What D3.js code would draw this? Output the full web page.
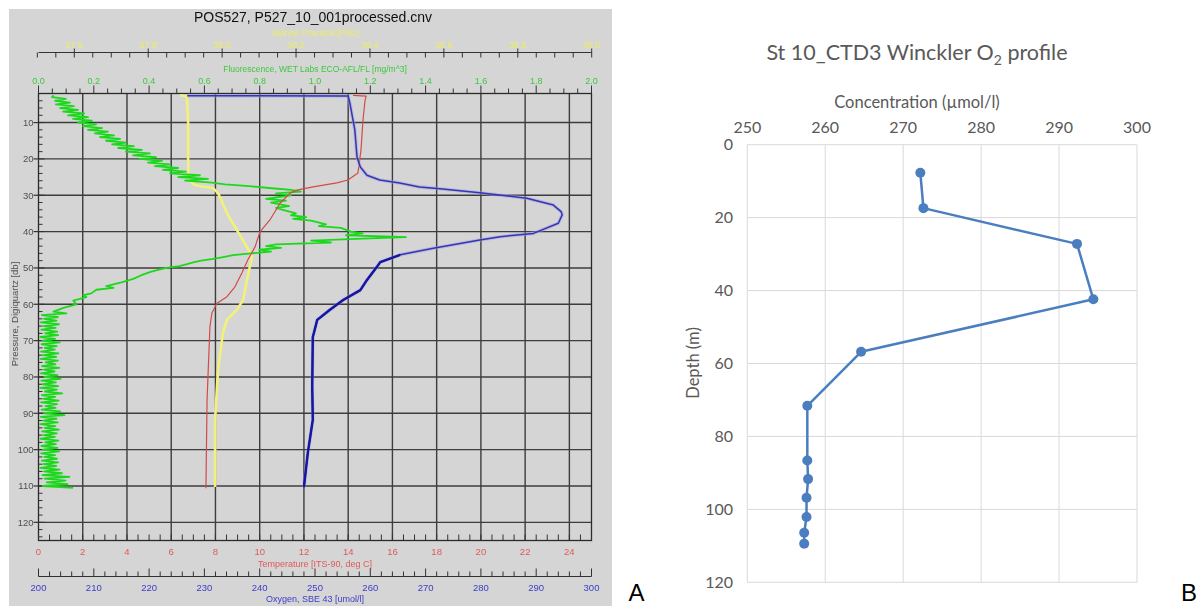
<!DOCTYPE html>
<html>
<head>
<meta charset="utf-8">
<script src="https://cdn.jsdelivr.net/npm/d3@7"></script>
<style>
  html, body { margin: 0; padding: 0; background: #ffffff; }
  svg { display: block; }
</style>
</head>
<body>
<svg id="fig" width="1203" height="606"></svg>
<script>
// ---------- Panel A: CTD cast POS527 station 10 ----------
const pressureTicks = [10, 20, 30, 40, 50, 60, 70, 80, 90, 100, 110, 120];
const temperatureTicks = [0, 2, 4, 6, 8, 10, 12, 14, 16, 18, 20, 22, 24];
const oxygenTicks = [200, 210, 220, 230, 240, 250, 260, 270, 280, 290, 300];
const fluorescenceTicks = [0, 0.2, 0.4, 0.6, 0.8, 1.0, 1.2, 1.4, 1.6, 1.8, 2.0];
const salinityTicks = [37.6, 37.8, 38.0, 38.2, 38.4, 38.6, 38.8, 39.0];

// [pressure db, temperature deg C]
const temperatureProfile = [
  [2.5, 14.22], [2.7, 14.81], [4, 14.76], [9.3, 14.67], [17.5, 14.58], [23.9, 14.44],
  [25.8, 13.99], [26.6, 13.49], [27.7, 12.41], [28.6, 11.68], [29.4, 11.37], [32.2, 10.92],
  [36.8, 10.46], [40.1, 10.01], [44.2, 9.79], [47.7, 9.47], [51.3, 9.2], [55.2, 8.88],
  [57.9, 8.52], [59.7, 8.07], [62.4, 7.84], [66.2, 7.75], [86.3, 7.62], [110.6, 7.57]
];

// [pressure db, oxygen umol/l]
const oxygenProfile = [
  [2.6, 226.9], [2.7, 256.0], [4.6, 256.3], [12, 257.2], [19.5, 257.6], [22.2, 258.2],
  [24.5, 259.4], [25.8, 261.7], [26.6, 265.3], [27.7, 268.9], [28.2, 272.6], [29.3, 279.8],
  [30.8, 288.3], [32.7, 293.1], [34.5, 294.5], [35.4, 294.7], [37.7, 294.0], [40.5, 289.5],
  [41.4, 283.5], [42.3, 279.8], [44.6, 271.4], [46.4, 265.4], [48.4, 261.8], [49.7, 261.2],
  [53.3, 259.4], [56.1, 258.2], [58.8, 255.1], [61.5, 252.7], [64.3, 250.4], [67.9, 249.8],
  [69, 249.6], [82.8, 249.5], [91.8, 249.6], [100.9, 248.7], [110.3, 248.0]
];

// [pressure db, salinity PSU]
const salinityProfile = [
  [2.5, 37.886], [2.8, 37.905], [10, 37.908], [20, 37.908], [24, 37.909], [25.8, 37.913],
  [27.2, 37.925], [27.6, 37.945], [28, 37.975], [29.4, 37.989], [34.9, 38.013], [39.6, 38.040],
  [44.2, 38.067], [47, 38.081], [49.7, 38.075], [53.3, 38.067], [58.8, 38.057], [61.5, 38.040],
  [64.3, 38.013], [67.9, 38.002], [78.1, 37.989], [82.8, 37.986], [91.8, 37.981], [110.3, 37.981]
];

// [pressure db, fluorescence mg/m^3]
const fluorescenceProfile = [
  [2.5, 0.054], [3.0, 0.049], [3.5, 0.099], [4.0, 0.060], [4.5, 0.114], [5.0, 0.063], [5.5, 0.128],
  [6.0, 0.078], [6.5, 0.143], [7.0, 0.089], [7.5, 0.165], [8.0, 0.107], [8.5, 0.179], [9.0, 0.125],
  [9.5, 0.193], [10.0, 0.143], [10.5, 0.208], [11.0, 0.161], [11.5, 0.230], [12.0, 0.179],
  [12.5, 0.251], [13.0, 0.204], [13.5, 0.273], [14.0, 0.222], [14.5, 0.295], [15.0, 0.244],
  [15.5, 0.316], [16.0, 0.266], [16.5, 0.345], [17.0, 0.288], [17.5, 0.374], [18.0, 0.316],
  [18.5, 0.403], [19.0, 0.342], [19.5, 0.425], [20.0, 0.367], [20.5, 0.447], [21.0, 0.396],
  [21.5, 0.476], [22.0, 0.421], [22.5, 0.505], [23.0, 0.450], [23.5, 0.533], [24.0, 0.476],
  [24.5, 0.584], [25.0, 0.505], [25.5, 0.613], [26.0, 0.530], [26.5, 0.627], [27.0, 0.675],
  [27.5, 0.762], [28, 0.834], [28.5, 0.913], [29, 0.949], [29.5, 0.859], [30, 0.913], [31, 0.823],
  [31.5, 0.895], [32, 0.841], [33, 0.906], [33.5, 0.859], [34, 0.884], [35, 0.931], [35.5, 0.913],
  [36, 0.968], [36.5, 0.921], [37, 0.986], [38, 1.040], [38.5, 1.014], [39, 1.094], [40, 1.130],
  [40.5, 1.173], [41, 1.112], [41.5, 1.329], [42, 1.148], [42.5, 0.986], [43, 1.058], [43.5, 0.859],
  [44, 0.823], [44.5, 0.877], [45, 0.798], [45.5, 0.841], [46, 0.769], [46.5, 0.704], [47, 0.668],
  [47.5, 0.632], [48, 0.588], [48.5, 0.560], [49, 0.534], [49.5, 0.509], [50, 0.462], [51, 0.408],
  [52, 0.372], [53, 0.343], [54, 0.300], [55, 0.245], [55.5, 0.271], [56, 0.209], [57, 0.191],
  [57.5, 0.162], [58, 0.173], [59, 0.126], [60, 0.137], [61, 0.090], [62, 0.054], [62.5, 0.101],
  [63, 0.012], [63.5, 0.070], [64, 0.020], [64.5, 0.065], [65, 0.008], [65.5, 0.074], [66, 0.018],
  [66.5, 0.062], [67, 0.010], [67.5, 0.068], [68, 0.024], [68.5, 0.071], [69, 0.006], [69.5, 0.060],
  [70, 0.015], [70.5, 0.077], [71, 0.011], [71.5, 0.066], [72, 0.022], [72.5, 0.059], [73, 0.009],
  [73.5, 0.072], [74, 0.017], [74.5, 0.064], [75, 0.007], [75.5, 0.070], [76, 0.026], [76.5, 0.061],
  [77, 0.012], [77.5, 0.075], [78, 0.019], [78.5, 0.058], [79, 0.008], [79.5, 0.069], [80, 0.021],
  [80.5, 0.080], [81, 0.010], [81.5, 0.063], [82, 0.016], [82.5, 0.071], [83, 0.006], [83.5, 0.066],
  [84, 0.023], [84.5, 0.086], [85, 0.012], [85.5, 0.060], [86, 0.018], [86.5, 0.073], [87, 0.009],
  [87.5, 0.067], [88, 0.025], [88.5, 0.062], [89, 0.011], [89.5, 0.078], [90, 0.020], [90.5, 0.094],
  [91, 0.008], [91.5, 0.065], [92, 0.017], [92.5, 0.070], [93, 0.006], [93.5, 0.061], [94, 0.022],
  [94.5, 0.074], [95, 0.013], [95.5, 0.066], [96, 0.019], [96.5, 0.059], [97, 0.007], [97.5, 0.072],
  [98, 0.024], [98.5, 0.063], [99, 0.010], [99.5, 0.069], [100, 0.016], [100.5, 0.075], [101, 0.009],
  [101.5, 0.060], [102, 0.021], [102.5, 0.067], [103, 0.012], [103.5, 0.071], [104, 0.018],
  [104.5, 0.064], [105, 0.006], [105.5, 0.076], [106, 0.020], [106.5, 0.085], [107, 0.014],
  [107.5, 0.112], [108, 0.022], [108.5, 0.098], [109, 0.030], [109.5, 0.105], [110, 0.015],
  [110.5, 0.125]
];

// ---------- Panel B: Winkler bottle samples ----------
const winklerTicksX = [250, 260, 270, 280, 290, 300];
const winklerTicksY = [0, 20, 40, 60, 80, 100, 120];
const winklerDepth = [7.7, 17.4, 27.2, 42.4, 56.8, 71.6, 86.6, 91.7, 96.8, 102.1, 106.4, 109.4];
const winklerO2 = [272.2, 272.6, 292.3, 294.4, 264.6, 257.7, 257.7, 257.8, 257.6, 257.6, 257.3, 257.3];

const svg = d3.select("#fig");
const defs = svg.append("defs");
defs.append("filter").attr("id", "soft")
  .attr("x", "-2%").attr("y", "-2%").attr("width", "104%").attr("height", "104%")
  .append("feGaussianBlur").attr("stdDeviation", 0.55);

// ===== Panel A =====
const A = svg.append("g").attr("filter", "url(#soft)");
const fontA = "'Liberation Sans', Arial, sans-serif";
A.append("rect").attr("x", 9).attr("y", 9).attr("width", 603).attr("height", 597).attr("fill", "#d5d5d5");

const L = 38.5, R = 591.5, T = 93.5, B = 540.5;
const yA = d3.scaleLinear().domain([2, 125]).range([T, B]);
const xT = d3.scaleLinear().domain([0, 25]).range([L, R]);
const xO = d3.scaleLinear().domain([200, 300]).range([L, R]);
const xF = d3.scaleLinear().domain([0, 2]).range([L, R]);
const xS = d3.scaleLinear().domain([37.6, 39.0]).range([74.3, 591.7]);

const gridC = "#3c3c3c";
// grid
A.append("g").selectAll("line").data(pressureTicks).join("line")
  .attr("x1", L).attr("x2", R).attr("y1", d => yA(d)).attr("y2", d => yA(d))
  .attr("stroke", gridC).attr("stroke-width", 1.4);
A.append("g").selectAll("line").data(temperatureTicks.filter(d => d > 0)).join("line")
  .attr("x1", d => xT(d)).attr("x2", d => xT(d)).attr("y1", T).attr("y2", B)
  .attr("stroke", gridC).attr("stroke-width", 1.4);
// frame
A.append("rect").attr("x", L).attr("y", T).attr("width", R - L).attr("height", B - T)
  .attr("fill", "none").attr("stroke", "#2a2a2a").attr("stroke-width", 1.3);

// left pressure axis ticks
const pMinor = d3.range(4, 125, 2);
A.append("g").selectAll("line").data(pMinor).join("line")
  .attr("x1", L).attr("x2", d => d % 10 === 0 ? L + 6 : L + 4)
  .attr("y1", d => yA(d)).attr("y2", d => yA(d)).attr("stroke", "#333").attr("stroke-width", 1);
A.append("g").selectAll("line").data(pressureTicks).join("line")
  .attr("x1", L - 5).attr("x2", L).attr("y1", d => yA(d)).attr("y2", d => yA(d))
  .attr("stroke", "#333").attr("stroke-width", 1.2);
A.append("g").selectAll("text").data(pressureTicks).join("text")
  .attr("x", L - 5).attr("y", d => yA(d) + 3.3).attr("text-anchor", "end")
  .attr("font-family", fontA).attr("font-size", 9.5).attr("fill", "#505050").text(d => d);
A.append("text").attr("transform", "translate(18,314) rotate(-90)").attr("text-anchor", "middle")
  .attr("font-family", fontA).attr("font-size", 9.5).attr("fill", "#505050")
  .text("Pressure, Digiquartz [db]");

// top fluorescence axis (on plot top edge)
const fMinor = d3.range(0, 2.0001, 0.05);
A.append("g").selectAll("line").data(fMinor).join("line")
  .attr("x1", d => xF(d)).attr("x2", d => xF(d))
  .attr("y1", T).attr("y2", (d, i) => i % 4 === 0 ? T - 8 : T - 5)
  .attr("stroke", "#333").attr("stroke-width", 1);
A.append("g").selectAll("text").data(fluorescenceTicks).join("text")
  .attr("x", d => xF(d)).attr("y", 83.5).attr("text-anchor", "middle")
  .attr("font-family", fontA).attr("font-size", 9).attr("fill", "#3cc83c").text(d => d.toFixed(1));
A.append("text").attr("x", 315).attr("y", 72).attr("text-anchor", "middle")
  .attr("font-family", fontA).attr("font-size", 8.5).attr("fill", "#3cc83c")
  .text("Fluorescence, WET Labs ECO-AFL/FL [mg/m^3]");

// salinity axis
const sY = 52.5;
A.append("line").attr("x1", L).attr("x2", R).attr("y1", sY).attr("y2", sY).attr("stroke", "#333").attr("stroke-width", 1.2);
const sMinor = d3.range(37.5, 39.0001, 0.05);
A.append("g").selectAll("line").data(sMinor).join("line")
  .attr("x1", d => xS(d)).attr("x2", d => xS(d))
  .attr("y1", (d, i) => (i - 2) % 4 === 0 ? sY - 4 : sY).attr("y2", sY + 5)
  .attr("stroke", "#333").attr("stroke-width", 1);
A.append("g").selectAll("text").data(salinityTicks).join("text")
  .attr("x", d => xS(d)).attr("y", 47.5).attr("text-anchor", "middle")
  .attr("font-family", fontA).attr("font-size", 9).attr("fill", "#ecec6a").text(d => d.toFixed(1));
A.append("text").attr("x", 315).attr("y", 36).attr("text-anchor", "middle")
  .attr("font-family", fontA).attr("font-size", 8.5).attr("fill", "#ecec6a")
  .text("Salinity, Practical [PSU]");

// title
A.append("text").attr("x", 313).attr("y", 22).attr("text-anchor", "middle")
  .attr("font-family", fontA).attr("font-size", 14).attr("fill", "#111")
  .text("POS527, P527_10_001processed.cnv");

// bottom temperature axis (on plot bottom edge)
const tMinor = d3.range(0, 25.0001, 0.5);
A.append("g").selectAll("line").data(tMinor).join("line")
  .attr("x1", d => xT(d)).attr("x2", d => xT(d)).attr("y1", B).attr("y2", B - 6)
  .attr("stroke", "#333").attr("stroke-width", 1);
A.append("g").selectAll("text").data(temperatureTicks).join("text")
  .attr("x", d => xT(d)).attr("y", 555).attr("text-anchor", "middle")
  .attr("font-family", fontA).attr("font-size", 9.5).attr("fill", "#e05a5a").text(d => d);
A.append("text").attr("x", 315).attr("y", 566.5).attr("text-anchor", "middle")
  .attr("font-family", fontA).attr("font-size", 9).attr("fill", "#e05a5a")
  .text("Temperature [ITS-90, deg C]");

// oxygen axis
const oY = 576.5;
A.append("line").attr("x1", L).attr("x2", R).attr("y1", oY).attr("y2", oY).attr("stroke", "#333").attr("stroke-width", 1.2);
const oMinor = d3.range(200, 300.001, 2);
A.append("g").selectAll("line").data(oMinor).join("line")
  .attr("x1", d => xO(d)).attr("x2", d => xO(d)).attr("y1", oY)
  .attr("y2", (d, i) => i % 5 === 0 ? oY - 8 : oY - 5)
  .attr("stroke", "#333").attr("stroke-width", 1);
A.append("g").selectAll("text").data(oxygenTicks).join("text")
  .attr("x", d => xO(d)).attr("y", 590.5).attr("text-anchor", "middle")
  .attr("font-family", fontA).attr("font-size", 9.5).attr("fill", "#3c3cc8").text(d => d);
A.append("text").attr("x", 315).attr("y", 601.5).attr("text-anchor", "middle")
  .attr("font-family", fontA).attr("font-size", 9).attr("fill", "#3c3cc8")
  .text("Oxygen, SBE 43 [umol/l]");

// profiles
const lineOf = xs => d3.line().x(d => xs(d[1])).y(d => yA(d[0]));
A.append("path").datum(salinityProfile).attr("d", lineOf(xS))
  .attr("fill", "none").attr("stroke", "#f2f27a").attr("stroke-width", 2.6).attr("stroke-linejoin", "round");
A.append("path").datum(fluorescenceProfile).attr("d", lineOf(xF))
  .attr("fill", "none").attr("stroke", "#1fd81f").attr("stroke-width", 1.8).attr("stroke-linejoin", "round");
A.append("path").datum(temperatureProfile).attr("d", lineOf(xT))
  .attr("fill", "none").attr("stroke", "#d44a4a").attr("stroke-width", 1.2).attr("stroke-linejoin", "round");
// oxygen: light halo, thin trace, heavier trace through the deep layer
A.append("path").datum(oxygenProfile).attr("d", lineOf(xO))
  .attr("fill", "none").attr("stroke", "#a0a0ea").attr("stroke-width", 3.6).attr("stroke-opacity", 0.5).attr("stroke-linejoin", "round");
A.append("path").datum(oxygenProfile).attr("d", lineOf(xO))
  .attr("fill", "none").attr("stroke", "#3434b0").attr("stroke-width", 1.5).attr("stroke-linejoin", "round");
A.append("path").datum(oxygenProfile.filter(d => d[0] >= 46.4)).attr("d", lineOf(xO))
  .attr("fill", "none").attr("stroke", "#12129e").attr("stroke-width", 2.4).attr("stroke-linejoin", "round");

// ===== Panel B =====
const fontB = "Lato, 'Open Sans', sans-serif";
const Bg = svg.append("g");
const xB = d3.scaleLinear().domain([250, 300]).range([747.3, 1137]);
const yB = d3.scaleLinear().domain([0, 120]).range([144.7, 582.3]);

Bg.append("g").selectAll("line").data(winklerTicksX).join("line")
  .attr("x1", d => xB(d)).attr("x2", d => xB(d)).attr("y1", yB(0)).attr("y2", yB(120))
  .attr("stroke", "#d9d9d9").attr("stroke-width", 1);
Bg.append("g").selectAll("line").data(winklerTicksY).join("line")
  .attr("x1", xB(250)).attr("x2", xB(300)).attr("y1", d => yB(d)).attr("y2", d => yB(d))
  .attr("stroke", "#d9d9d9").attr("stroke-width", 1);

Bg.append("g").selectAll("text").data(winklerTicksX).join("text")
  .attr("x", d => xB(d)).attr("y", 132.5).attr("text-anchor", "middle")
  .attr("font-family", fontB).attr("font-size", 16).attr("fill", "#595959").text(d => d);
Bg.append("g").selectAll("text").data(winklerTicksY).join("text")
  .attr("x", 733).attr("y", d => yB(d) + 5.5).attr("text-anchor", "end")
  .attr("font-family", fontB).attr("font-size", 16).attr("fill", "#595959").text(d => d);

Bg.append("text").attr("x", 917).attr("y", 107.5).attr("text-anchor", "middle")
  .attr("font-family", fontB).attr("font-size", 16.5).attr("fill", "#595959")
  .text("Concentration (µmol/l)");
Bg.append("text").attr("transform", "translate(699,363) rotate(-90)").attr("text-anchor", "middle")
  .attr("font-family", fontB).attr("font-size", 16.5).attr("fill", "#595959")
  .text("Depth (m)");

const title = Bg.append("text").attr("x", 917).attr("y", 60).attr("text-anchor", "middle")
  .attr("font-family", fontB).attr("font-size", 21.5).attr("fill", "#595959");
title.append("tspan").text("St 10_CTD3 Winckler O");
title.append("tspan").attr("font-size", 14).attr("dy", 4.5).text("2");
title.append("tspan").attr("dy", -4.5).text(" profile");

const samples = winklerDepth.map((d, i) => ({ depth: d, o2: winklerO2[i] }));
Bg.append("path").datum(samples)
  .attr("d", d3.line().x(d => xB(d.o2)).y(d => yB(d.depth)))
  .attr("fill", "none").attr("stroke", "#4a7ebf").attr("stroke-width", 2.5).attr("stroke-linejoin", "round");
Bg.append("g").selectAll("circle").data(samples).join("circle")
  .attr("cx", d => xB(d.o2)).attr("cy", d => yB(d.depth)).attr("r", 5)
  .attr("fill", "#4a7ebf");

// panel letters
svg.append("text").attr("x", 636.5).attr("y", 601).attr("text-anchor", "middle")
  .attr("font-family", "'Liberation Sans', Arial, sans-serif").attr("font-size", 24).attr("fill", "#000").text("A");
svg.append("text").attr("x", 1189).attr("y", 601).attr("text-anchor", "middle")
  .attr("font-family", "'Liberation Sans', Arial, sans-serif").attr("font-size", 24).attr("fill", "#000").text("B");
</script>
</body>
</html>
